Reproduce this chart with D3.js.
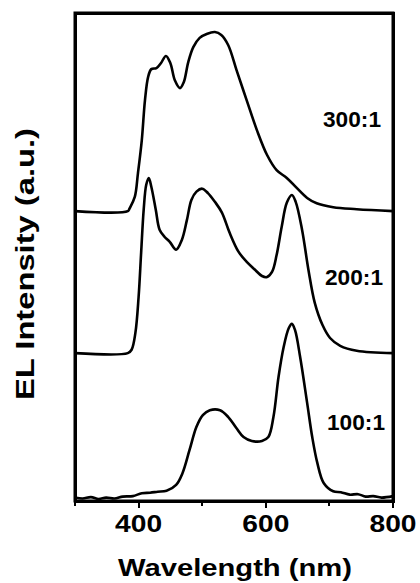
<!DOCTYPE html>
<html>
<head>
<meta charset="utf-8">
<script src="https://cdn.jsdelivr.net/npm/d3@7/dist/d3.min.js"></script>
<style>
  html, body { margin: 0; padding: 0; background: #fff; }
  #wrap { position: relative; width: 420px; height: 583px; }
  svg { display: block; position: absolute; left: 0; top: 0; }
  .lbl { font-family: "Liberation Sans", Arial, Helvetica, sans-serif; font-weight: bold; fill: #000; }
  .box { position: absolute; box-sizing: border-box; border: 3px solid #000; }
  .tk { position: absolute; background: #000; }
</style>
</head>
<body>
<div id="wrap"><svg id="chart" width="420" height="583" viewBox="0 0 420 583"></svg></div>
<script>
// EL spectra for three doping ratios, stacked with a vertical offset (a.u.)
const seriesNames = ["100:1", "200:1", "300:1"];
const seriesOffsets = [0.4, 30.3, 59.4];

const wl100 = [300, 312, 325, 337, 349, 362, 375, 391, 405, 418, 430, 444, 459, 469, 480, 491, 501, 512, 528, 541, 554, 565, 578, 594, 604, 612, 620, 628, 636, 641, 646, 654, 665, 673, 681, 691, 706, 718, 732, 745, 757, 769, 782, 800];
const int100 = [0.3, 0.1, 0.4, 0.0, 0.3, 0.1, 0.5, 0.6, 1.2, 1.3, 1.5, 1.7, 2.9, 5.3, 10.0, 14.8, 17.2, 18.2, 18.2, 16.8, 14.5, 12.7, 11.9, 11.9, 12.7, 16.8, 25.0, 31.1, 35.0, 35.9, 34.6, 29.1, 19.7, 12.7, 7.4, 3.3, 1.6, 1.4, 0.9, 1.0, 0.5, 0.6, 0.3, 0.6];

const wl200 = [300, 383, 389, 395, 400, 404, 408, 412, 416, 420, 427, 433, 441, 449, 459, 468, 476, 483, 491, 500, 509, 520, 531, 543, 557, 570, 583, 594, 602, 610, 617, 625, 633, 641, 647, 657, 667, 677, 689, 701, 717, 743, 800];
const int200 = [0, 0, 0.7, 4.2, 11.5, 20.6, 29.4, 34.5, 35.9, 34.1, 29.4, 25.3, 23.8, 22.8, 21.2, 23.2, 27.3, 31.4, 33.1, 33.7, 32.8, 31.0, 28.8, 24.7, 20.8, 18.7, 17.1, 15.8, 15.6, 16.7, 20.1, 25.9, 30.8, 32.4, 31.0, 25.3, 17.1, 10.3, 5.8, 3.1, 1.5, 0.5, 0];

const wl300 = [300, 383, 386, 394, 399, 405, 410, 415, 420, 428, 435, 443, 450, 457, 465, 471, 478, 486, 496, 507, 520, 530, 541, 554, 570, 586, 602, 617, 633, 649, 665, 680, 706, 743, 800];
const int300 = [0, 0, 0.6, 2.9, 7.8, 14.5, 22.7, 27.5, 29.1, 29.3, 30.3, 31.8, 30.3, 26.8, 25.2, 26.4, 30.5, 33.6, 35.5, 36.3, 36.7, 36.1, 34.0, 28.9, 22.7, 16.6, 11.5, 8.4, 6.8, 4.7, 2.7, 1.6, 0.8, 0.4, 0];

const xTicks = [400, 600, 800];
const xMinorTicks = [300, 500, 700];

const svg = d3.select("#chart");
const plot = { left: 75, right: 393, top: 13, bottom: 501 };

const x = d3.scaleLinear().domain([300, 800]).range([plot.left, plot.right]);
const y = d3.scaleLinear().domain([0, 100]).range([plot.bottom, plot.top]);
const [x0, x1] = x.range();
const [y0, y1] = y.range();

// plot frame in SVG
svg.append("rect")
  .attr("x", x0).attr("y", y1)
  .attr("width", x1 - x0).attr("height", y0 - y1)
  .attr("fill", "none").attr("stroke", "#000").attr("stroke-width", 3);

// the same frame and ticks as positioned HTML boxes over the SVG
const wrap = d3.select("#wrap");
wrap.append("div")
  .attr("class", "box")
  .style("left", (x0 - 1.5) + "px")
  .style("top", (y1 - 1.5) + "px")
  .style("width", (x1 - x0 + 3) + "px")
  .style("height", (y0 - y1 + 3) + "px");

const tickMarks = xTicks.map(v => ({ v, len: 6, w: 2 }))
  .concat(xMinorTicks.map(v => ({ v, len: 4, w: 2 })));
wrap.selectAll("div.tk")
  .data(tickMarks)
  .join("div")
  .attr("class", "tk")
  .style("left", d => (x(d.v) - d.w / 2) + "px")
  .style("top", (y0 + 1) + "px")
  .style("width", d => d.w + "px")
  .style("height", d => d.len + "px");

const series = [
  { name: seriesNames[0], offset: seriesOffsets[0], wl: wl100, val: int100 },
  { name: seriesNames[1], offset: seriesOffsets[1], wl: wl200, val: int200 },
  { name: seriesNames[2], offset: seriesOffsets[2], wl: wl300, val: int300 }
];

const line = d3.line()
  .x(d => x(d[0]))
  .y(d => y(d[1]))
  .curve(d3.curveCatmullRom.alpha(0.5));

svg.append("g")
  .selectAll("path")
  .data(series)
  .join("path")
  .attr("d", s => line(s.wl.map((w, i) => [w, s.val[i] + s.offset])))
  .style("fill", "none")
  .style("stroke", "#000")
  .style("stroke-width", "2.6px")
  .style("stroke-linejoin", "round");

// tick labels
svg.append("g")
  .selectAll("text")
  .data(xTicks)
  .join("text")
  .attr("class", "lbl")
  .attr("x", d => x(d))
  .attr("y", y0 + 31)
  .attr("text-anchor", "middle")
  .style("font-size", "24px")
  .attr("textLength", 47)
  .attr("lengthAdjust", "spacingAndGlyphs")
  .text(d3.format("d"));

// axis titles
svg.append("text")
  .attr("class", "lbl")
  .attr("x", 235).attr("y", 576)
  .attr("text-anchor", "middle")
  .style("font-size", "24px")
  .attr("textLength", 234)
  .attr("lengthAdjust", "spacingAndGlyphs")
  .text("Wavelength (nm)");

svg.append("text")
  .attr("class", "lbl")
  .attr("transform", "translate(34,264) rotate(-90)")
  .attr("text-anchor", "middle")
  .style("font-size", "25px")
  .attr("textLength", 272)
  .attr("lengthAdjust", "spacingAndGlyphs")
  .text("EL Intensity (a.u.)");

// series labels
const labelPos = [
  { x: 356, y: 430 },
  { x: 354, y: 285 },
  { x: 352, y: 127 }
];
svg.append("g")
  .selectAll("text")
  .data(series)
  .join("text")
  .attr("class", "lbl")
  .attr("x", (d, i) => labelPos[i].x)
  .attr("y", (d, i) => labelPos[i].y)
  .attr("text-anchor", "middle")
  .style("font-size", "22px")
  .attr("textLength", 58)
  .attr("lengthAdjust", "spacingAndGlyphs")
  .text(d => d.name);
</script>
</body>
</html>
